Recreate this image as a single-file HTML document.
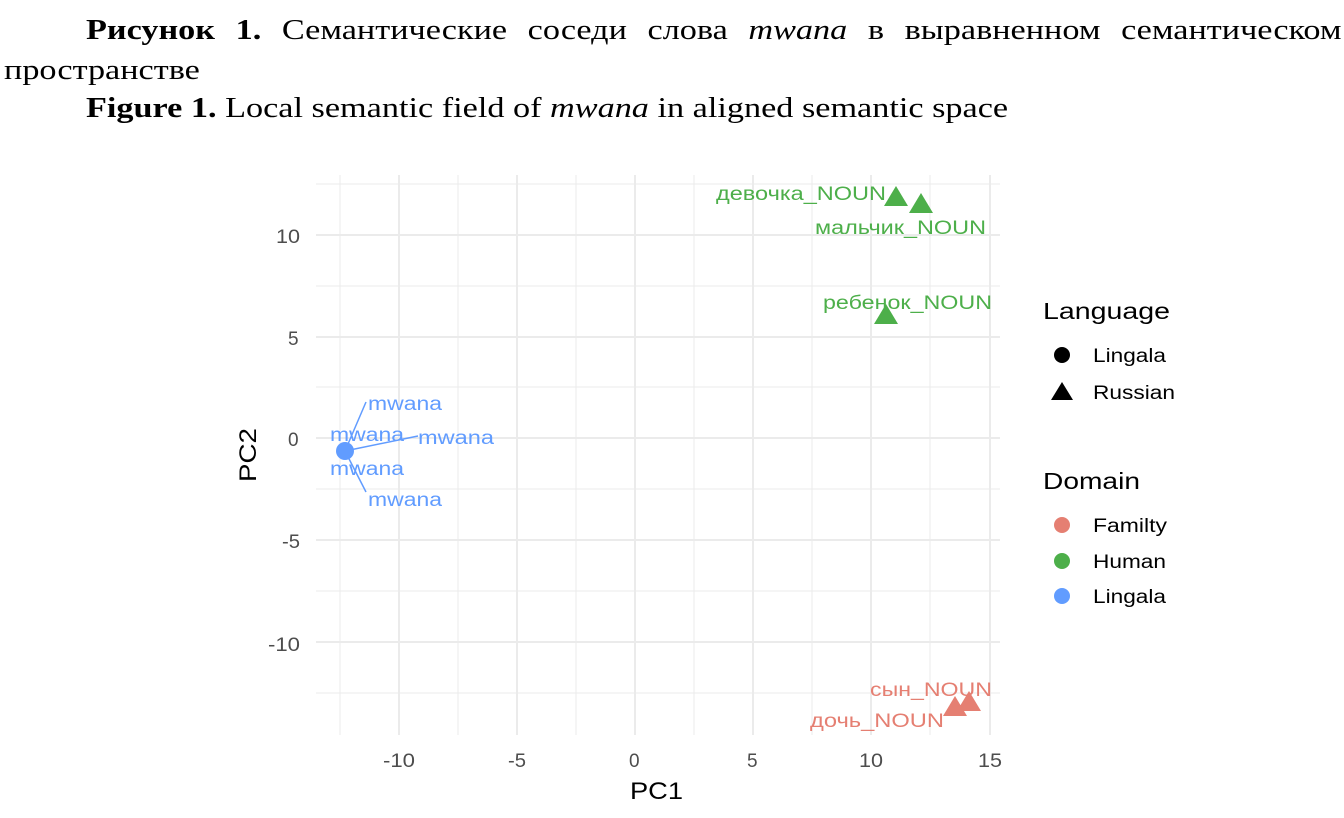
<!DOCTYPE html>
<html><head><meta charset="utf-8"><style>
body{margin:0;width:1344px;height:818px;background:#fff;overflow:hidden;position:relative;font-family:"Liberation Serif",serif;}
.t{position:absolute;font-size:29px;color:#000;white-space:nowrap;transform-origin:0 0;transform:scaleX(1.18);}
</style></head><body>
<div class="t" style="left:86px;top:14px;width:1064px;text-align:justify;text-align-last:justify;"><b>Рисунок 1.</b> Семантические соседи слова <i>mwana</i> в выравненном семантическом</div>
<div class="t" style="left:4px;top:54px;">пространстве</div>
<div class="t" style="left:86px;top:92px;"><b>Figure 1.</b> Local semantic field of <i>mwana</i> in aligned semantic space</div>
<svg width="1344" height="818" style="position:absolute;left:0;top:0" font-family="Liberation Sans, sans-serif">
<g stroke="#ebebeb" stroke-width="1">
<line x1="316" x2="1000" y1="184" y2="184"/><line x1="316" x2="1000" y1="286" y2="286"/><line x1="316" x2="1000" y1="387" y2="387"/><line x1="316" x2="1000" y1="489" y2="489"/><line x1="316" x2="1000" y1="591" y2="591"/><line x1="316" x2="1000" y1="693" y2="693"/>
<line y1="175" y2="735" x1="340" x2="340"/><line y1="175" y2="735" x1="458" x2="458"/><line y1="175" y2="735" x1="576" x2="576"/><line y1="175" y2="735" x1="694" x2="694"/><line y1="175" y2="735" x1="812" x2="812"/><line y1="175" y2="735" x1="930" x2="930"/>
</g>
<g stroke="#ebebeb" stroke-width="2">
<line x1="316" x2="1000" y1="235" y2="235"/><line x1="316" x2="1000" y1="337" y2="337"/><line x1="316" x2="1000" y1="438" y2="438"/><line x1="316" x2="1000" y1="540" y2="540"/><line x1="316" x2="1000" y1="642" y2="642"/>
<line y1="175" y2="735" x1="399" x2="399"/><line y1="175" y2="735" x1="517" x2="517"/><line y1="175" y2="735" x1="635" x2="635"/><line y1="175" y2="735" x1="753" x2="753"/><line y1="175" y2="735" x1="871" x2="871"/><line y1="175" y2="735" x1="990" x2="990"/>
</g>
<g fill="#4d4d4d" font-size="19">
<text x="276" y="243" textLength="24" lengthAdjust="spacingAndGlyphs">10</text><text x="288" y="345">5</text><text x="288" y="446">0</text><text x="282" y="548" textLength="18" lengthAdjust="spacingAndGlyphs">-5</text><text x="268" y="651" textLength="32" lengthAdjust="spacingAndGlyphs">-10</text>
</g>
<g fill="#4d4d4d" font-size="19">
<text x="383" y="767" textLength="32" lengthAdjust="spacingAndGlyphs">-10</text><text x="508" y="767" textLength="18" lengthAdjust="spacingAndGlyphs">-5</text><text x="629" y="767">0</text><text x="747" y="767">5</text><text x="859" y="767" textLength="24" lengthAdjust="spacingAndGlyphs">10</text><text x="978" y="767" textLength="24" lengthAdjust="spacingAndGlyphs">15</text>
</g>
<text x="630" y="799" font-size="24" fill="#000" textLength="53" lengthAdjust="spacingAndGlyphs">PC1</text>
<text transform="translate(256,482) rotate(-90)" font-size="24" fill="#000" textLength="54" lengthAdjust="spacingAndGlyphs">PC2</text>
<g stroke="#619cff" stroke-width="1.5" fill="none">
<line x1="345" y1="451" x2="366" y2="402"/><line x1="345" y1="451" x2="418" y2="436"/><line x1="345" y1="451" x2="366" y2="492"/>
</g>
<circle cx="345" cy="451" r="9" fill="#619cff"/>
<g fill="#619cff" font-size="19">
<text x="368" y="410" textLength="74" lengthAdjust="spacingAndGlyphs">mwana</text><text x="330" y="441" textLength="74" lengthAdjust="spacingAndGlyphs">mwana</text><text x="418" y="444" textLength="76" lengthAdjust="spacingAndGlyphs">mwana</text><text x="330" y="475" textLength="74" lengthAdjust="spacingAndGlyphs">mwana</text><text x="368" y="506" textLength="74" lengthAdjust="spacingAndGlyphs">mwana</text>
</g>
<g fill="#4daf4a">
<polygon points="896,186 908,206 884,206"/><polygon points="921,193 933,213 909,213"/><polygon points="886,304 898,324 874,324"/>
</g>
<g fill="#4daf4a" font-size="19">
<text x="716" y="200" textLength="170" lengthAdjust="spacingAndGlyphs">девочка_NOUN</text><text x="815" y="234" textLength="171" lengthAdjust="spacingAndGlyphs">мальчик_NOUN</text><text x="823" y="309" textLength="169" lengthAdjust="spacingAndGlyphs">ребенок_NOUN</text>
</g>
<g fill="#e57f72">
<polygon points="969,691 981,711 957,711"/><polygon points="955,696 967,716 943,716"/>
</g>
<g fill="#e57f72" font-size="19">
<text x="870" y="696" textLength="122" lengthAdjust="spacingAndGlyphs">сын_NOUN</text><text x="810" y="727" textLength="134" lengthAdjust="spacingAndGlyphs">дочь_NOUN</text>
</g>
<g font-size="23" fill="#000"><text x="1043" y="319" textLength="127" lengthAdjust="spacingAndGlyphs">Language</text><text x="1043" y="489" textLength="97" lengthAdjust="spacingAndGlyphs">Domain</text></g>
<g font-size="19" fill="#000">
<circle cx="1062" cy="355" r="8"/><text x="1093" y="362" textLength="73" lengthAdjust="spacingAndGlyphs">Lingala</text>
<polygon points="1062,382 1073,400 1051,400"/><text x="1093" y="399" textLength="82" lengthAdjust="spacingAndGlyphs">Russian</text>
<circle cx="1062" cy="525" r="8" fill="#e57f72"/><text x="1093" y="532" textLength="74" lengthAdjust="spacingAndGlyphs">Familty</text>
<circle cx="1062" cy="561" r="8" fill="#4daf4a"/><text x="1093" y="568" textLength="73" lengthAdjust="spacingAndGlyphs">Human</text>
<circle cx="1062" cy="596" r="8" fill="#619cff"/><text x="1093" y="603" textLength="73" lengthAdjust="spacingAndGlyphs">Lingala</text>
</g>
</svg>
</body></html>
